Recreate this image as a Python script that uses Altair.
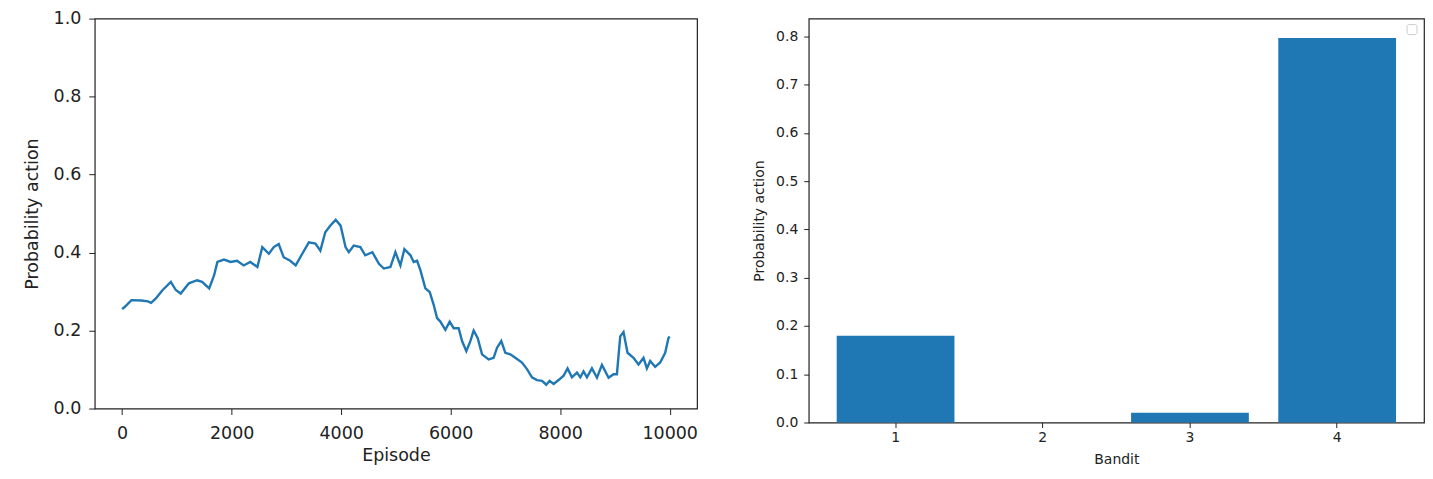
import altair as alt
import pandas as pd

# ---- left panel: probability of action over episodes ----
episodes = [
    0, 50, 170, 350, 470, 530, 620, 740, 890, 980,
    1070, 1220, 1370, 1460, 1590, 1680, 1740, 1860, 1980, 2100,
    2220, 2340, 2470, 2560, 2680, 2770, 2860, 2950, 3070, 3170,
    3290, 3410, 3530, 3620, 3710, 3800, 3900, 3990, 4080, 4140,
    4230, 4350, 4440, 4570, 4690, 4780, 4900, 4991, 5082, 5155,
    5265, 5325, 5387, 5447, 5538, 5617, 5690, 5752, 5812, 5903,
    5982, 6055, 6146, 6208, 6286, 6360, 6420, 6493, 6573, 6694,
    6785, 6847, 6925, 6998, 7089, 7180, 7303, 7394, 7485, 7577,
    7668, 7746, 7807, 7880, 7971, 8062, 8135, 8215, 8307, 8367,
    8427, 8489, 8580, 8672, 8763, 8884, 8975, 9036, 9097, 9157,
    9230, 9339, 9431, 9522, 9584, 9644, 9735, 9827, 9918, 9978,
    10000,
]
probabilities = [
    .255, .261, .278, .277, .275, .271, .283, .304, .325, .304,
    .295, .321, .329, .325, .308, .342, .376, .382, .376, .379,
    .367, .376, .363, .414, .397, .414, .422, .388, .379, .367,
    .397, .426, .423, .405, .452, .469, .484, .469, .414, .401,
    .418, .414, .393, .401, .371, .359, .363, .401, .367, .409,
    .393, .376, .379, .355, .308, .299, .266, .232, .223, .202,
    .223, .206, .206, .173, .147, .173, .200, .181, .139, .126,
    .130, .156, .173, .143, .139, .130, .118, .101, .080, .073,
    .071, .061, .071, .063, .073, .084, .103, .080, .092, .080,
    .095, .080, .103, .079, .112, .079, .088, .088, .185, .196,
    .143, .130, .113, .130, .103, .122, .107, .118, .143, .181,
    .185,
]
x_ticks_left = [0, 2000, 4000, 6000, 8000, 10000]
y_ticks_left = [0.0, 0.2, 0.4, 0.6, 0.8, 1.0]

# ---- right panel: final probability per bandit ----
bandits = ["1", "2", "3", "4"]
bandit_probs = [0.180, 0.0, 0.020, 0.797]
y_ticks_right = [0.0, 0.1, 0.2, 0.3, 0.4, 0.5, 0.6, 0.7, 0.8]

BLUE = "#1f77b4"
FONT = "DejaVu Sans"

line_df = pd.DataFrame({"Episode": episodes, "p": probabilities})
bar_df = pd.DataFrame({"Bandit": bandits, "p": bandit_probs})

left = (
    alt.Chart(line_df)
    .mark_line(color=BLUE, strokeWidth=2.4)
    .encode(
        x=alt.X(
            "Episode:Q",
            scale=alt.Scale(domain=[-500, 10500], nice=False, zero=False),
            axis=alt.Axis(
                values=x_ticks_left, format="d", title="Episode",
                labelFontSize=17.5, titleFontSize=17.5, tickSize=6,
                labelPadding=10, titlePadding=5, grid=False,
            ),
        ),
        y=alt.Y(
            "p:Q",
            scale=alt.Scale(domain=[0, 1], nice=False),
            axis=alt.Axis(
                values=y_ticks_left, format=".1f", title="Probability action",
                labelFontSize=17.5, titleFontSize=17.5, tickSize=6,
                labelPadding=8, titlePadding=12, grid=False,
            ),
        ),
    )
    .properties(width=604, height=391)
)

bars = (
    alt.Chart(bar_df)
    .mark_bar(color=BLUE)
    .encode(
        x=alt.X(
            "Bandit:N",
            sort=bandits,
            scale=alt.Scale(paddingInner=0.2, paddingOuter=0.19),
            axis=alt.Axis(
                labelAngle=0, title="Bandit", labelFontSize=14,
                titleFontSize=14, tickSize=5, labelPadding=3, titlePadding=8,
                grid=False,
            ),
        ),
        y=alt.Y(
            "p:Q",
            scale=alt.Scale(domain=[0, 0.837], nice=False),
            axis=alt.Axis(
                values=y_ticks_right, format=".1f", title="Probability action",
                labelFontSize=14, titleFontSize=14, tickSize=5,
                labelPadding=6, titlePadding=9, grid=False,
            ),
        ),
    )
)

legend_box = (
    alt.Chart(bar_df.head(1))
    .mark_rect(fill="white", stroke="#cccccc", strokeWidth=1, cornerRadius=2)
    .encode(
        x=alt.value(600), x2=alt.value(610),
        y=alt.value(6), y2=alt.value(16),
    )
)

right = alt.layer(bars, legend_box).properties(width=617, height=405)

chart = (
    alt.hconcat(left, right, spacing=54)
    .properties(
        padding={"left": 14, "top": 0, "right": 0, "bottom": 5},
        background="white",
    )
    .configure_view(stroke="#222222", strokeWidth=1.2)
    .configure_axis(
        domain=False, grid=False, labelFont=FONT, titleFont=FONT,
        labelColor="#222222", titleColor="#222222", tickColor="#222222",
        titleFontWeight="normal",
    )
)

chart.save("out.html", embed_options={"renderer": "svg", "actions": False})
